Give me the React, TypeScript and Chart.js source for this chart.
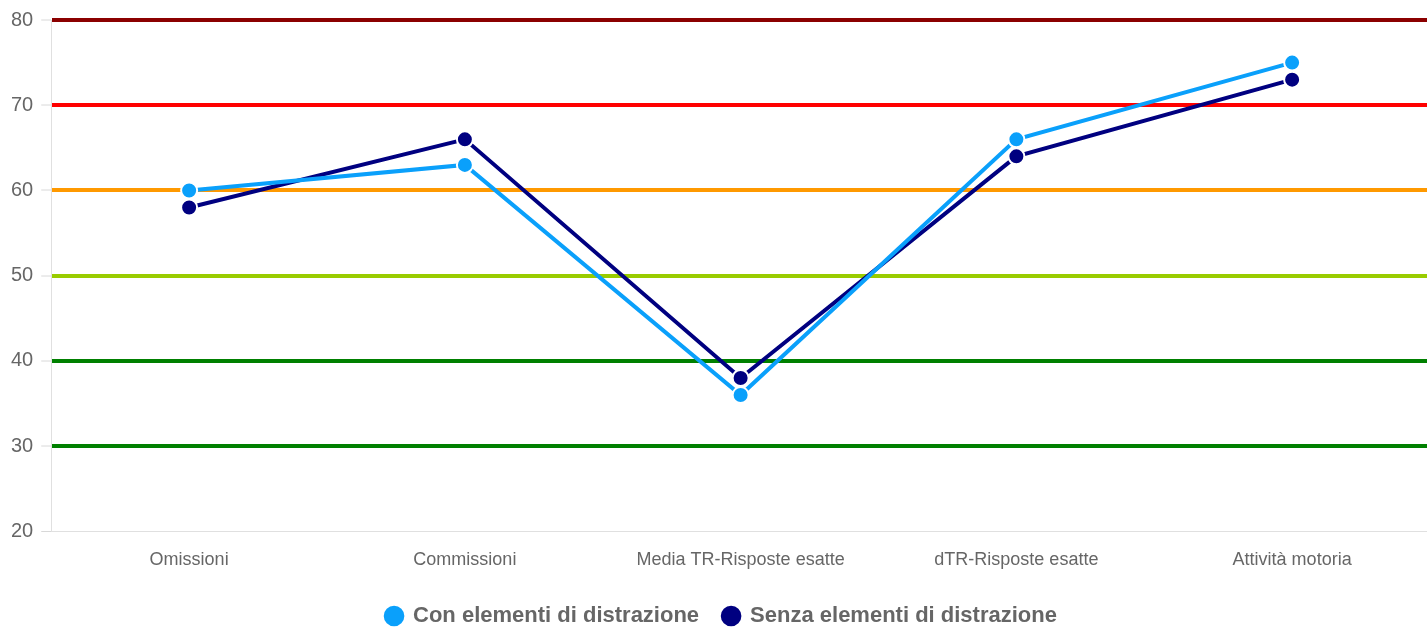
import React, { useEffect, useRef } from "react";
import { Chart, registerables } from "chart.js";

Chart.register(...registerables);

const categories = ["Omissioni", "Commissioni", "Media TR-Risposte esatte", "dTR-Risposte esatte", "Attività motoria"];
const conDistrazione = [60, 63, 36, 66, 75];
const senzaDistrazione = [58, 66, 38, 64, 73];
const seriesLabels = ["Con elementi di distrazione", "Senza elementi di distrazione"];
const seriesColors = ["#0aa0fb", "#000080"];
const gridColorByValue: Record<number, string> = {
  80: "#8b0000",
  70: "#ff0000",
  60: "#ff9900",
  50: "#99cc00",
  40: "#008000",
  30: "#008000",
};

const W = 1440;
const H = 637;

export default function App() {
  const ref = useRef<HTMLCanvasElement | null>(null);
  useEffect(() => {
    document.body.style.margin = "0";
    if (!ref.current) return;
    Chart.defaults.font.family = "'Liberation Sans', Arial, sans-serif";
    const chart = new Chart(ref.current, {
      type: "line",
      data: {
        labels: categories,
        datasets: [conDistrazione, senzaDistrazione].map((d, i) => ({
          label: seriesLabels[i],
          data: d,
          borderColor: seriesColors[i],
          backgroundColor: seriesColors[i],
          pointBackgroundColor: seriesColors[i],
          pointBorderColor: "#ffffff",
          pointBorderWidth: 2,
          pointRadius: 8,
          borderWidth: 4,
          tension: 0,
          fill: false,
        })),
      },
      options: {
        animation: false,
        responsive: false,
        maintainAspectRatio: false,
        layout: { padding: { left: 3, top: 12 } },
        plugins: {
          legend: {
            position: "bottom",
            labels: {
              usePointStyle: true,
              pointStyle: "circle",
              boxWidth: 16,
              boxHeight: 16,
              color: "#666",
              padding: 24,
              font: { size: 22, weight: "bold" },
            },
          },
          tooltip: { enabled: false },
        },
        scales: {
          x: {
            offset: true,
            grid: { display: false },
            border: { display: true, color: "#e0e0e0" },
            ticks: { color: "#666", font: { size: 18 }, padding: 10 },
          },
          y: {
            min: 20,
            max: 80,
            ticks: { stepSize: 10, color: "#666", font: { size: 20 }, padding: 8 },
            border: { display: true, color: "#e0e0e0" },
            grid: {
              color: (ctx: any) => gridColorByValue[ctx.tick?.value] ?? "#e0e0e0",
              lineWidth: (ctx: any) => (gridColorByValue[ctx.tick?.value] ? 4 : 1),
              tickColor: "#d8d8d8",
              tickLength: 10,
              tickWidth: 1,
            },
          },
        },
      },
    });
    return () => chart.destroy();
  }, []);
  return (
    <div style={{ width: 1427, height: 627, overflow: "hidden" }}>
      <div style={{ width: W, height: H }}>
        <canvas ref={ref} width={W} height={H} style={{ width: W, height: H }} />
      </div>
    </div>
  );
}
